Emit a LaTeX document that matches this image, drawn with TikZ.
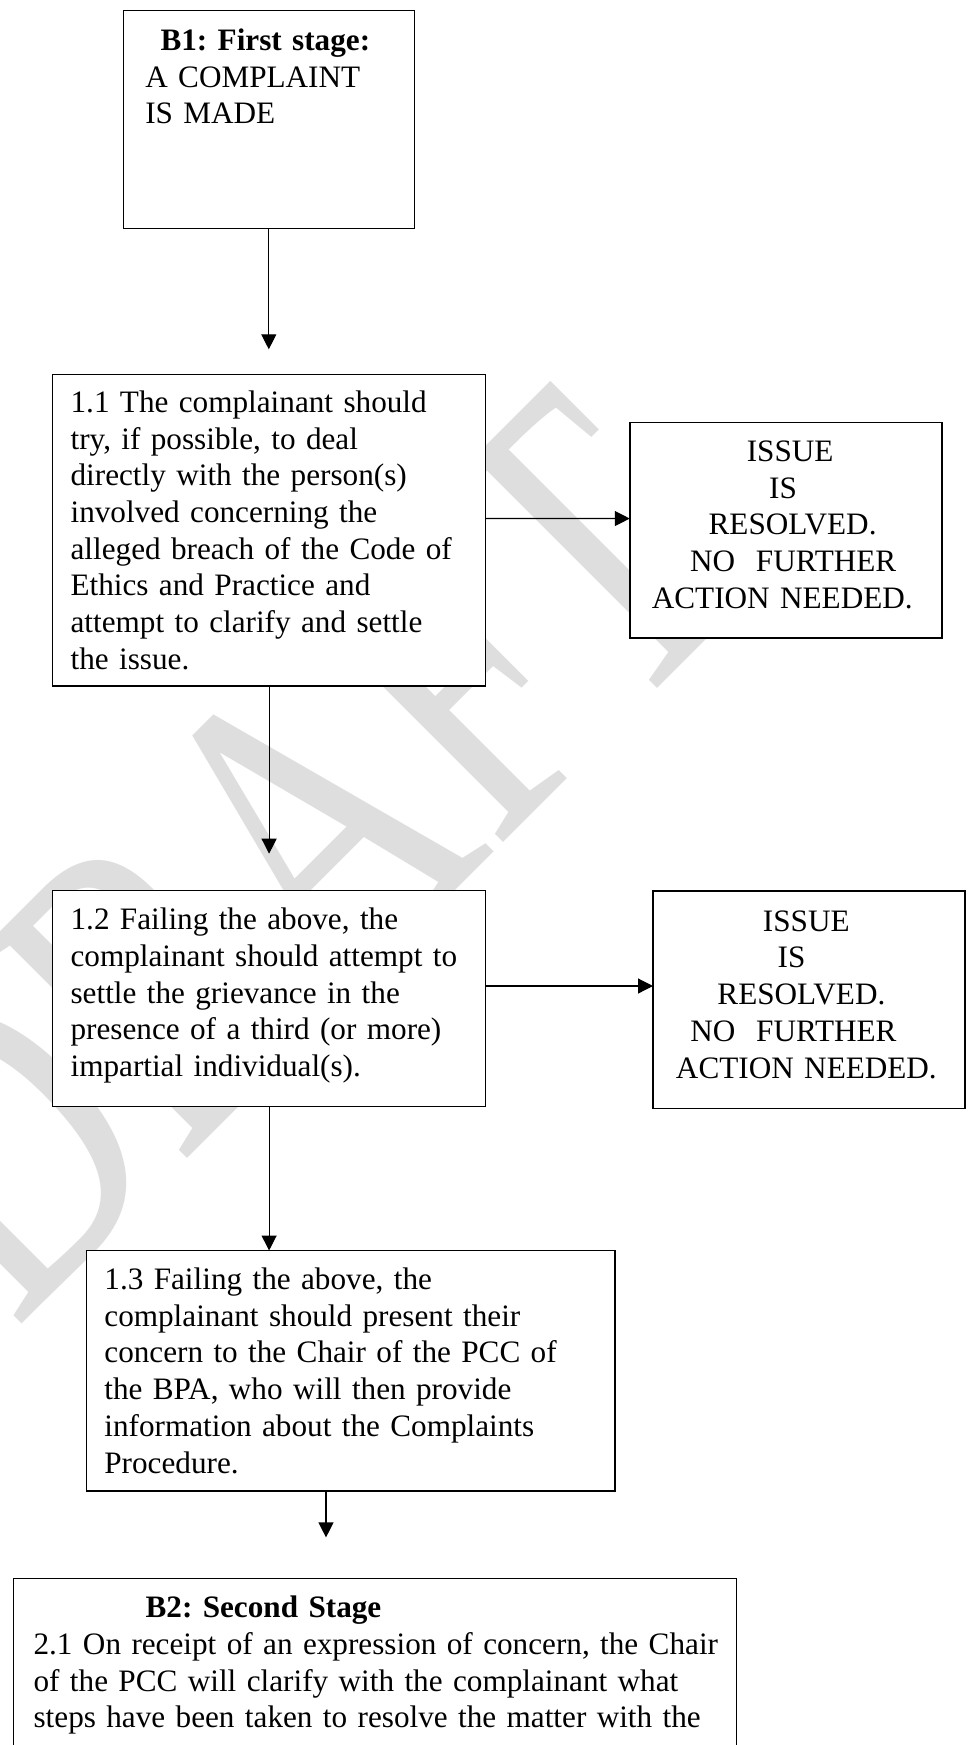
\documentclass[tikz,border=0pt]{standalone}
\usepackage{fontspec}
\setmainfont{Liberation Serif}
\frenchspacing
\usetikzlibrary{arrows.meta,calc}
\begin{document}
\begin{tikzpicture}[x=0.5pt,y=-0.5pt,
  box/.style={draw=black, line width=0.7pt, fill=white, anchor=north west,
    outer sep=0pt, inner ysep=0pt, align=left,
    font=\fontsize{15.6pt}{18.35pt}\selectfont},
  resolved/.style={box, align=center, inner xsep=5pt},
  flow/.style={-{Triangle[length=7.5pt,width=7.5pt]}, line width=0.6pt},
  watermark/.style={anchor=base west, rotate=45, inner sep=0pt, text=black!13,
    font=\fontsize{223.5pt}{223.5pt}\selectfont}]

% page frame
\path[use as bounding box] (0,0) rectangle (968,1745);
\fill[white] (0,0) rectangle (968,1745);
\clip (0,0) rectangle (968,1745);

% background watermark, narrowed along its baseline
\node[watermark] (wm) at (15,1331) {\scalebox{0.72}[1]{DRAFT}};

% first stage
\node[box, inner xsep=11pt, text width=123.5pt, minimum width=145.5pt,
  minimum height=109.1pt] (b1) at (123.3,10.5)
  {\hspace*{7.6pt}\textbf{B1: First stage:}\\A COMPLAINT\\IS MADE\rule[-43.3pt]{0pt}{0pt}};

\node[box, inner xsep=9pt, text width=198.5pt, minimum width=216.5pt,
  minimum height=155.8pt] (b11) at (52.6,374.4)
  {1.1 The complainant should\\try, if possible, to deal\\directly with the person(s)\\involved concerning the\\alleged breach of the Code of\\Ethics and Practice and\\attempt to clarify and settle\\the issue.};

\node[resolved, text width=146.1pt, minimum width=156.1pt,
  minimum height=107.75pt] (iss1) at (629.8,422.5)
  {\hspace*{4.2pt}ISSUE\\IS\kern2.9pt\\\hspace*{6.7pt}RESOLVED.\\\hspace*{7.3pt}NO\ \ FURTHER\\ACTION NEEDED.\kern3.6pt\rule[-5.8pt]{0pt}{0pt}};

\node[box, inner xsep=9pt, text width=198.5pt, minimum width=216.5pt,
  minimum height=108pt] (b12) at (52.6,890.7)
  {1.2 Failing the above, the\\\mbox{complainant should attempt to}\\settle the grievance in the\\presence of a third (or more)\\impartial individual(s).\rule[-6.5pt]{0pt}{0pt}};

\node[resolved, text width=145.9pt, minimum width=155.9pt,
  minimum height=108.85pt] (iss2) at (653,891)
  {ISSUE\kern2.6pt\\IS\kern17.3pt\\RESOLVED.\kern7.5pt\\NO\ \ FURTHER\kern15.5pt\\ACTION NEEDED.\kern2.5pt\rule[-5.5pt]{0pt}{0pt}};

\node[box, inner xsep=9pt, text width=246.2pt, minimum width=264.2pt,
  minimum height=120.15pt] (b13) at (86.4,1250.5)
  {1.3 Failing the above, the\\complainant should present their\\concern to the Chair of the PCC of\\the BPA, who will then provide\\information about the Complaints\\Procedure.};

% second stage
\node[box, inner xsep=10pt, text width=341.4pt, minimum width=361.4pt,
  minimum height=200pt] (b2) at (13.6,1578.3)
  {\hspace*{56pt}\textbf{B2: Second Stage}\\\mbox{2.1 On receipt of an expression of concern, the Chair}\\\mbox{of the PCC will clarify with the complainant what}\\\mbox{steps have been taken to resolve the matter with the}\rule[-116.25pt]{0pt}{0pt}};

% connectors
\coordinate (a1) at ($(b1.south)+(0,120.6)$);
\draw[flow] (b1.south) -- (a1);
\draw[flow] ($(b11.east)+(0,-11.7)$) -- ($(iss1.west)+(0,-11.7)$);
\coordinate (a2) at ($(b11.south)+(0,167.7)$);
\draw[flow] (b11.south) -- (a2);
\draw[flow] ($(b12.east)+(0,-12.7)$) -- ($(iss2.west |- b12.east)+(0,-12.7)$);
\draw[flow] (b12.south) -- (b12.south |- b13.north);
\coordinate (a4) at ($(b13.south)+(-24.6,46.6)$);
\draw[flow] ($(b13.south)+(-24.6,0)$) -- (a4);
\end{tikzpicture}
\end{document}
